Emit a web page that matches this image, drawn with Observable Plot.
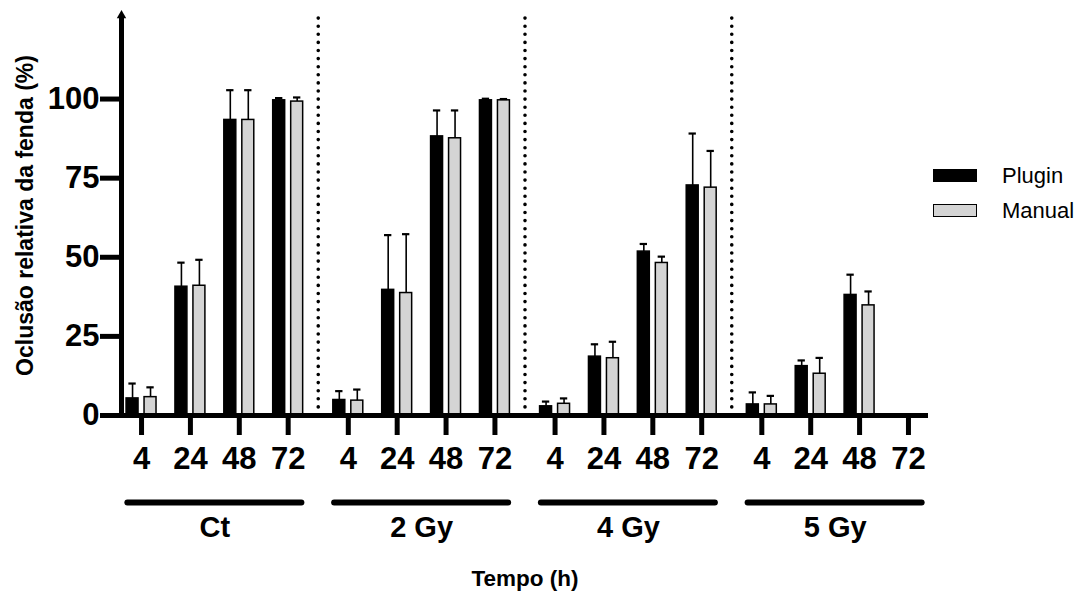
<!DOCTYPE html>
<html><head><meta charset="utf-8">
<script src="https://cdn.jsdelivr.net/npm/d3@7"></script>
<script src="https://cdn.jsdelivr.net/npm/@observablehq/plot@0.6"></script>
<style>
body{margin:0;background:#fff;}
#wrap{position:relative;width:1080px;height:591px;}
#legend{position:absolute;left:933px;top:158px;font-family:"Liberation Sans",Arial,sans-serif;font-size:22px;color:#000;}
.row{display:flex;align-items:center;height:35px;}
.sw{width:44px;height:13px;box-sizing:border-box;border:1.5px solid #000;margin-right:25px;}
</style></head><body><div id="wrap"><div id="legend"></div></div>
<script>
const groups = ["Ct", "2 Gy", "4 Gy", "5 Gy"];
const times = ["4", "24", "48", "72"];
const seriesNames = ["Plugin", "Manual"];
const seriesColors = ["#000000", "#d4d4d4"];
// values per group (Ct, 2 Gy, 4 Gy, 5 Gy) x time (4, 24, 48, 72)
const pluginMean = [5.4, 40.7, 93.4, 99.6,  4.9, 39.7, 88.2, 99.6,  2.9, 18.6, 51.8, 72.7,  3.5, 15.6, 38.1, null];
const pluginSD   = [4.7,  7.6,  9.4,  0.7,  2.8, 17.3,  8.2,  0.5,  1.5,  3.9,  2.4, 16.4,  3.8,  1.8,  6.4, null];
const manualMean = [5.8, 41.0, 93.4, 99.2,  4.7, 38.7, 87.6, 99.6,  3.7, 18.1, 48.2, 72.0,  3.5, 13.2, 34.8, null];
const manualSD   = [3.1,  8.2,  9.4,  1.3,  3.5, 18.6,  8.8,  0.4,  1.7,  5.2,  2.0, 11.6,  2.7,  5.0,  4.4, null];
const yTicks = [0, 25, 50, 75, 100];
const yLabel = "Oclusão relativa da fenda (%)";
const xLabel = "Tempo (h)";

// layout (in slot units)
const groupStep = 4.23;
const pad = 0.41;
const seriesOffset = 0.184;
const halfBar = 0.1225;
const capHalf = 0.075;
const yMax = 126.4;
const pos = (gi, ti) => gi * groupStep + ti;

const rows = [];
const slots = [];
groups.forEach((g, gi) => times.forEach((t, ti) => {
  const k = gi * times.length + ti;
  slots.push({p: pos(gi, ti), label: t});
  [[pluginMean[k], pluginSD[k]], [manualMean[k], manualSD[k]]].forEach(([m, sd], si) => {
    if (m == null) return;
    rows.push({group: g, time: t, series: seriesNames[si], si, mean: m, sd,
      x: pos(gi, ti) + (si ? seriesOffset : -seriesOffset)});
  });
}));
const slotLabel = new Map(slots.map(s => [s.p, s.label]));
const seps = groups.slice(1).map((g, i) => pos(i + 1, 0) - (groupStep - (times.length - 1)) / 2);
const groupRows = groups.map((g, gi) => ({g, x1: pos(gi, 0), x2: pos(gi, times.length - 1)}));
const xDomain = [-pad, pos(groups.length - 1, times.length - 1) + pad];

const font = '"Liberation Sans", Arial, sans-serif';
const chart = Plot.plot({
  width: 1080, height: 591,
  marginLeft: 121, marginRight: 152, marginTop: 15, marginBottom: 176,
  style: {fontFamily: font, color: "#000", background: "#fff", overflow: "visible"},
  x: {domain: xDomain},
  y: {domain: [0, yMax]},
  marks: [
    Plot.ruleX(seps, {x: d => d, y1: 0, y2: yMax, strokeDasharray: "0 8.1", strokeLinecap: "round", strokeWidth: 3.6}),
    Plot.rectY(rows, {x1: d => d.x - halfBar, x2: d => d.x + halfBar, y1: 0, y2: "mean",
      fill: d => seriesColors[d.si], stroke: "#000", strokeWidth: 1.5}),
    Plot.ruleX(rows, {x: "x", y1: "mean", y2: d => d.mean + d.sd, strokeWidth: 1.6}),
    Plot.ruleY(rows, {y: d => d.mean + d.sd, x1: d => d.x - capHalf, x2: d => d.x + capHalf, strokeWidth: 2.2}),
    Plot.axisY({ticks: yTicks, tickSize: 21, tickPadding: 1, strokeWidth: 5, fontSize: 31, fontWeight: "bold", label: null}),
    Plot.axisX({ticks: slots.map(s => s.p), tickFormat: d => slotLabel.get(d), tickSize: 20, tickPadding: 11,
      strokeWidth: 5, fontSize: 31, fontWeight: "bold", label: null}),
    Plot.ruleY([0], {strokeWidth: 5}),
    Plot.ruleX([xDomain[0]], {y1: 0, y2: yMax, strokeWidth: 5}),
    Plot.dot([0], {x: xDomain[0], y: yMax, symbol: "triangle", r: 3.5, fill: "#000"}),
    Plot.ruleY(groupRows, {y: 0, x1: d => d.x1 - 0.28, x2: d => d.x2 + 0.28, dy: 87, strokeWidth: 6, strokeLinecap: "round"}),
    Plot.text(groupRows, {x: d => (d.x1 + d.x2) / 2, y: 0, dy: 112, text: "g", fontSize: 29, fontWeight: "bold", lineAnchor: "middle"}),
    Plot.text([xLabel], {frameAnchor: "bottom", dy: 163, text: d => d, fontSize: 22.5, fontWeight: "bold", textAnchor: "middle", lineAnchor: "middle"}),
    Plot.text([yLabel], {frameAnchor: "left", dx: -96, rotate: -90, text: d => d, fontSize: 23, fontWeight: "bold", textAnchor: "middle", lineAnchor: "middle"})
  ]
});
document.getElementById("wrap").prepend(chart);

const legend = document.getElementById("legend");
seriesNames.forEach((s, i) => {
  const row = document.createElement("div");
  row.className = "row";
  const sw = document.createElement("div");
  sw.className = "sw";
  sw.style.background = seriesColors[i];
  const lab = document.createElement("span");
  lab.textContent = s;
  row.append(sw, lab);
  legend.append(row);
});
</script></body></html>
